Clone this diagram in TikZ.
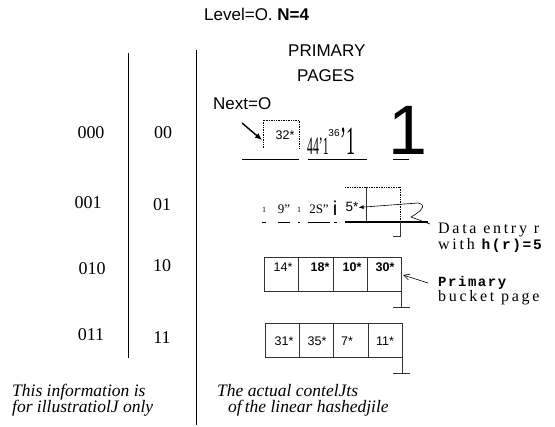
\documentclass[tikz,border=0pt]{standalone}
\usepackage{fontspec}
\setmainfont{Liberation Serif}
\setsansfont{Liberation Sans}
\setmonofont{Liberation Mono}
\newfontfamily\spacedrm[LetterSpace=17]{Liberation Serif}
\newfontfamily\spacedtt[LetterSpace=11]{Liberation Mono}
\usetikzlibrary{arrows.meta}
\tikzset{
  sftxt/.style={font=\sffamily\fontsize{17}{20}\selectfont, anchor=base west, inner sep=0pt},
  digit/.style={font=\fontsize{18}{20}\selectfont, inner sep=0pt},
  ittxt/.style={font=\itshape\fontsize{17.5}{21}\selectfont, anchor=base west, inner sep=0pt},
  celltxt/.style={font=\sffamily\fontsize{12.5}{14}\selectfont, anchor=base, inner sep=0pt},
  boldcell/.style={celltxt, font=\sffamily\bfseries\fontsize{12.5}{14}\selectfont},
  garble/.style={font=\fontsize{13}{14}\selectfont, anchor=base, inner sep=0pt},
  note/.style={font=\spacedrm\fontsize{16}{17}\selectfont, anchor=base west, inner sep=0pt},
  rule/.style={line width=0.9pt},
  thinbox/.style={line width=0.6pt, black!80},
  dotbox/.style={line width=0.7pt, densely dotted},
  ptr/.style={line width=0.6pt, -{Straight Barb[length=6pt,width=6pt]}},
}
\begin{document}
\begin{tikzpicture}[x=1pt,y=-1pt]
\useasboundingbox (0,0) rectangle (555,427);

% header texts
\node[sftxt] (level) at (204,21) {Level=O. \textbf{N=4}};
\node[sftxt] (prim1) at (288,57) {PRIMARY};
\node[sftxt] (prim2) at (297,82) {PAGES};
\node[sftxt] (next) at (213,110) {Next=O};

% vertical separators
\coordinate (l1t) at (128,53);
\coordinate (l1b) at (128,358);
\coordinate (l2t) at (196,50);
\coordinate (l2b) at (196,425);
\draw[line width=1pt] (l1t) -- (l1b);
\draw[line width=1pt] (l2t) -- (l2b);

% hash values
\node[digit] (h0) at (91,133) {000};
\node[digit] (h1) at (88,203) {001};
\node[digit] (h2) at (92,269) {010};
\node[digit] (h3) at (91,335) {011};
\node[digit] (g0) at (163,133) {00};
\node[digit] (g1) at (162,205) {01};
\node[digit] (g2) at (162,266) {10};
\node[digit] (g3) at (162,338) {11};

% bottom captions
\node[ittxt] (c1) at (12,397) {This information is};
\node[ittxt] (c2) at (12,413) {for illustratiolJ only};
\node[ittxt] (c3) at (217,397) {The actual contelJts};
\node[ittxt] (c4) at (228,413) {of\kern3pt the linear hashedjile};

% ---- row 1 (bucket 00)
\draw[dotbox] (263,148) -- (263,120) -- (299,120) -- (299,148);
\node[celltxt] (b32) at (285,140) {32*};
\node[font=\fontsize{25}{25}\selectfont, xscale=0.47, anchor=base, inner sep=0pt] (b44) at (318,155) {44'1};
\node[font=\sffamily\fontsize{10}{11}\selectfont, anchor=base, inner sep=0pt] (b36) at (334,137) {36};
\node[font=\fontsize{40}{40}\selectfont, xscale=0.45, anchor=base, inner sep=0pt] (b36b) at (348,155) {'1};
\node[font=\sffamily\fontsize{70}{70}\selectfont, anchor=base, inner sep=0pt] (big1) at (408,155) {1};
\draw[rule] (242,159) -- (299,159);
\draw[rule] (308,159) -- (367,159);
\draw[rule] (393,159) -- (409,159);
\coordinate (nexttip) at (262,140);
\draw[line width=1.4pt, -{Latex[length=7pt,width=6pt]}] (242,123) -- (nexttip);

% ---- row 2 (bucket 01)
\node[font=\fontsize{8}{9}\selectfont, anchor=base, inner sep=0pt] (s1) at (264,213) {1};
\node[garble] (s9) at (284,214) {9\symbol{34}};
\node[font=\fontsize{8}{9}\selectfont, anchor=base, inner sep=0pt] (s1b) at (299,213) {1};
\node[garble] (s25) at (319,214) {2S\symbol{34}};
\node[font=\sffamily\fontsize{20}{20}\selectfont, anchor=base, inner sep=0pt] (si) at (335,216) {i};
\node[celltxt, font=\sffamily\fontsize{13.5}{14}\selectfont] (b5) at (352,212) {5*};
\draw[rule] (262,222) -- (266,222);
\draw[rule] (278,222) -- (290,222);
\draw[rule] (298,222) -- (300,222);
\draw[rule] (308,222) -- (330,222);
\draw[rule] (334,222) -- (337,222);
\draw[dotbox] (345,187) -- (400,187);
\draw[thinbox] (366,187) -- (366,222);
\draw[dotbox] (400,187) -- (400,222);
\draw[line width=1.3pt] (345,222) -- (428,222);
\draw[thinbox] (400,222) -- (400,236) -- (393,236);

\node[note] (de1) at (438,234) {Data entry r};
\node[note] (de2) at (438,250) {with {\spacedtt\bfseries\fontsize{14.5}{16}\selectfont h(r)=5}};
\coordinate (dstart) at (430,224);
\draw[line width=0.6pt, -{Latex[length=5pt,width=4pt]}]
  (dstart) -- (411,217) .. controls (420,212) and (428,205) .. (418,203) -- (b5.east);

% ---- row 3 (bucket 10)
\draw[thinbox] (264,257) rectangle (401,291);
\draw[thinbox] (298,257) -- (298,291);
\draw[thinbox] (333,257) -- (333,291);
\draw[thinbox] (367,257) -- (367,291);
\node[celltxt] (b14) at (283,272) {14*};
\node[boldcell] (b18) at (320,272) {18*};
\node[boldcell] (b10) at (352,272) {10*};
\node[boldcell] (b30) at (385,272) {30*};
\draw[thinbox] (401,291) -- (401,307);
\draw[thinbox] (393,307) -- (410,307);

\node[note, font=\spacedtt\bfseries\fontsize{14}{16}\selectfont] (pr1) at (438,287) {Primary};
\node[note] (pr2) at (438,302) {bucket page};
\coordinate (pstart) at (428,283);
\coordinate (ptip) at (403,275);
\draw[ptr] (pstart) -- (ptip);

% ---- row 4 (bucket 11)
\draw[thinbox] (265,323) rectangle (402,357);
\draw[thinbox] (299,323) -- (299,357);
\draw[thinbox] (333,323) -- (333,357);
\draw[thinbox] (368,323) -- (368,357);
\node[celltxt] (b31) at (284,346) {31*};
\node[celltxt] (b35) at (317,346) {35*};
\node[celltxt] (b7) at (347,346) {7*};
\node[celltxt] (b11) at (385,346) {11*};
\draw[thinbox] (402,357) -- (402,373);
\draw[thinbox] (393,373) -- (410,373);
\end{tikzpicture}
\end{document}
